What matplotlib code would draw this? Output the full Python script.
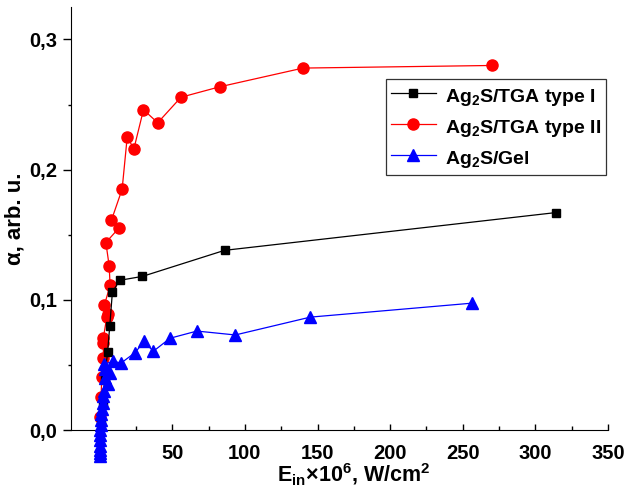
import numpy as np
import matplotlib
matplotlib.use("Agg")
from matplotlib import pyplot as plt
from matplotlib.ticker import FixedLocator, FuncFormatter

plt.rcParams['font.family'] = ['Liberation Sans', 'DejaVu Sans']
plt.rcParams['font.weight'] = 'bold'
plt.rcParams['mathtext.fontset'] = 'custom'
plt.rcParams['mathtext.rm'] = 'Liberation Sans:bold'
plt.rcParams['mathtext.it'] = 'Liberation Sans:bold'
plt.rcParams['mathtext.bf'] = 'Liberation Sans:bold'
plt.rcParams['mathtext.default'] = 'rm'


# !Data
labels = ['Ag$_2$S/TGA type I', 'Ag$_2$S/TGA type II', 'Ag$_2$S/Gel']

type1_x = [0.8, 2.0, 3.5, 5.5, 7.0, 8.8, 13.9, 29.5, 86.0, 314.0]
type1_y = [0.005, 0.02, 0.04, 0.06, 0.08, 0.106, 0.115, 0.118, 0.138, 0.167]

type2_x = [0.5, 1.0, 1.5, 2.6, 2.6, 2.6, 5.0, 5.6, 3.3, 7.2, 6.6, 4.3,
           13.2, 8.1, 15.5, 19.0, 23.6, 30.2, 40.0, 56.0, 82.6, 140.0, 270.0]
type2_y = [0.01, 0.025, 0.041, 0.055, 0.067, 0.071, 0.087, 0.089, 0.096, 0.111, 0.126, 0.144,
           0.155, 0.161, 0.185, 0.225, 0.216, 0.246, 0.236, 0.2556, 0.2636, 0.278, 0.280]

gel_x = [0.05, 0.1, 0.2, 0.3, 0.4, 0.5, 0.6, 0.8, 1.0, 1.2, 1.5, 2.0, 2.5, 3.0,
         6.0, 4.0, 7.2, 3.5, 3.3, 9.5, 14.6, 24.5, 30.5, 37.0, 48.5, 67.0, 93.4, 145.0, 256.0]
gel_y = [-0.020, -0.018, -0.015, -0.012, -0.008, -0.004, 0.0, 0.004, 0.008, 0.012, 0.016,
         0.021, 0.026, 0.030, 0.035, 0.040, 0.0436, 0.047, 0.0505, 0.053, 0.0513, 0.0595,
         0.068, 0.0605, 0.0705, 0.076, 0.073, 0.0867, 0.0974]


fig = plt.figure(figsize=(6.26, 4.92), dpi=100)
ax = fig.add_axes([0.1134, 0.126, 0.858, 0.860])

ax.plot(type1_x, type1_y, color='black', marker='s', markersize=6, linewidth=0.9,
        label=labels[0], clip_on=False, zorder=3)
ax.plot(type2_x, type2_y, color='red', marker='o', markersize=8, linewidth=0.9,
        label=labels[1], clip_on=False, zorder=2)
ax.plot(gel_x, gel_y, color='blue', marker='^', markersize=8, linewidth=0.9,
        label=labels[2], clip_on=False, zorder=4)

ax.set_xlim(-19.7, 350)
ax.set_ylim(0, 0.325)

ax.spines['top'].set_visible(False)
ax.spines['right'].set_visible(False)

ax.xaxis.set_major_locator(FixedLocator([50, 100, 150, 200, 250, 300, 350]))
ax.xaxis.set_minor_locator(FixedLocator([25, 75, 125, 175, 225, 275, 325]))
ax.yaxis.set_major_locator(FixedLocator([0.0, 0.1, 0.2, 0.3]))
ax.yaxis.set_minor_locator(FixedLocator([0.05, 0.15, 0.25]))
ax.yaxis.set_major_formatter(FuncFormatter(lambda v, p: ('%.1f' % v).replace('.', ',')))

ax.tick_params(axis='x', which='major', direction='in', length=4.5, width=1, labelsize=14.5, pad=10)
ax.tick_params(axis='x', which='minor', direction='in', length=3, width=1)
ax.tick_params(axis='y', which='major', direction='out', length=6, width=1, labelsize=14.5, pad=4)
ax.tick_params(axis='y', which='minor', direction='out', length=2.5, width=1)

ax.set_xlabel('E$_{in}$×10$^6$, W/cm$^2$', fontsize=15.5, fontweight='bold')
ax.xaxis.set_label_coords(0.527, -0.075)
ax.set_ylabel('α, arb. u.', fontsize=16, fontweight='bold')
ax.yaxis.set_label_coords(-0.085, 0.5)

leg = ax.legend(loc='upper left', bbox_to_anchor=(0.5866, 0.8298), fontsize=14,
                frameon=True, fancybox=False, edgecolor='black', handlelength=2.3,
                handletextpad=0.46, handleheight=1.5, labelspacing=0.35,
                borderpad=0.25, borderaxespad=0)
leg.get_frame().set_linewidth(0.9)

fig.savefig('out.png', dpi=100)
